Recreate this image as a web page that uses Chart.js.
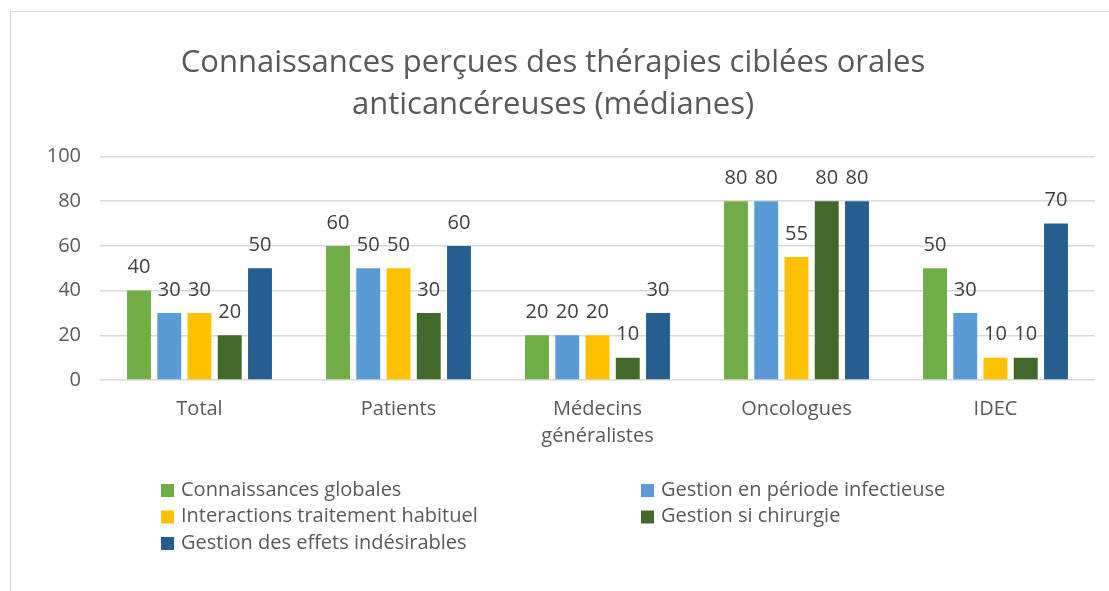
<!DOCTYPE html>
<html>
<head>
<meta charset="utf-8">
<script src="https://cdn.jsdelivr.net/npm/chart.js@4/dist/chart.umd.min.js"></script>
<style>
  html, body { margin: 0; padding: 0; background: #fff; overflow: hidden; }
  #box { position: absolute; left: 10px; top: 11px; width: 1110px; height: 590px; border: 1px solid #d9d9d9; box-sizing: border-box; }
  #box canvas { position: absolute; left: 0; top: 0; }
</style>
</head>
<body>
<div id="box"><canvas id="chart" width="1110" height="590"></canvas></div>
<script>
// categories
const categories = ['Total', 'Patients', ['Médecins', 'généralistes'], 'Oncologues', 'IDEC'];

// series (médianes)
const connaissancesGlobales = [40, 60, 20, 80, 50];
const gestionInfectieuse = [30, 50, 20, 80, 30];
const interactionsTraitement = [30, 50, 20, 55, 10];
const gestionChirurgie = [20, 30, 10, 80, 10];
const gestionEffets = [50, 60, 30, 80, 70];

const seriesNames = [
  'Connaissances globales',
  'Gestion en période infectieuse',
  'Interactions traitement habituel',
  'Gestion si chirurgie',
  'Gestion des effets indésirables'
];
const seriesColors = ['#70ad47', '#5b9bd5', '#ffc000', '#43682b', '#255e91'];
const seriesData = [connaissancesGlobales, gestionInfectieuse, interactionsTraitement, gestionChirurgie, gestionEffets];

const yTicks = [0, 20, 40, 60, 80, 100];

const FONT = '"Open Sans", "Noto Sans", sans-serif';

// etiquettes au-dessus des barres
const valueLabels = {
  id: 'valueLabels',
  afterDatasetsDraw(chart) {
    const ctx = chart.ctx;
    ctx.save();
    ctx.font = '20px ' + FONT;
    ctx.fillStyle = '#404040';
    ctx.textAlign = 'center';
    ctx.textBaseline = 'bottom';
    chart.data.datasets.forEach(function(ds, i) {
      const meta = chart.getDatasetMeta(i);
      meta.data.forEach(function(bar, j) {
        ctx.fillText(ds.data[j], bar.x, bar.y - 13);
      });
    });
    ctx.restore();
  }
};

// legende sur deux colonnes, comme dans Excel
const legendCols = {
  id: 'legendCols',
  afterDraw(chart) {
    const ctx = chart.ctx;
    const top = chart.chartArea.bottom + 110;
    const colX = [150, 630];
    ctx.save();
    ctx.font = '20px ' + FONT;
    ctx.textBaseline = 'middle';
    chart.data.datasets.forEach(function(ds, i) {
      const x = colX[i % 2];
      const y = top + Math.floor(i / 2) * 26.5;
      ctx.fillStyle = ds.backgroundColor;
      ctx.fillRect(x, y - 6, 13, 13);
      ctx.fillStyle = '#595959';
      ctx.fillText(ds.label, x + 20, y);
    });
    ctx.restore();
  }
};

new Chart(document.getElementById('chart'), {
  type: 'bar',
  data: {
    labels: categories,
    datasets: seriesNames.map(function(name, i) {
      return {
        label: name,
        data: seriesData[i],
        backgroundColor: seriesColors[i],
        categoryPercentage: 0.76,
        barPercentage: 0.79
      };
    })
  },
  options: {
    responsive: false,
    animation: false,
    devicePixelRatio: 1,
    layout: { padding: { left: 0, right: 26, top: 0, bottom: 136 } },
    plugins: {
      legend: { display: false },
      tooltip: { enabled: false },
      title: {
        display: true,
        text: ['Connaissances perçues des thérapies ciblées orales', 'anticancéreuses (médianes)'],
        color: '#595959',
        font: { family: FONT, size: 31, weight: 'normal', lineHeight: 1.33 },
        padding: { top: 31, bottom: 31 }
      }
    },
    scales: {
      x: {
        grid: { display: false, drawTicks: false },
        border: { display: false },
        ticks: { color: '#595959', font: { family: FONT, size: 20, lineHeight: 1.35 }, padding: 16, maxRotation: 0, autoSkip: false }
      },
      y: {
        min: 0,
        max: 100,
        afterFit(scale) { scale.width = 89; },
        afterBuildTicks(scale) { scale.ticks = yTicks.map(function(v) { return { value: v }; }); },
        grid: { color: '#d9d9d9', lineWidth: 1.5, drawTicks: false },
        border: { display: false },
        ticks: { color: '#595959', font: { family: FONT, size: 20 }, padding: 19 }
      }
    }
  },
  plugins: [valueLabels, legendCols]
});
</script>
</body>
</html>
